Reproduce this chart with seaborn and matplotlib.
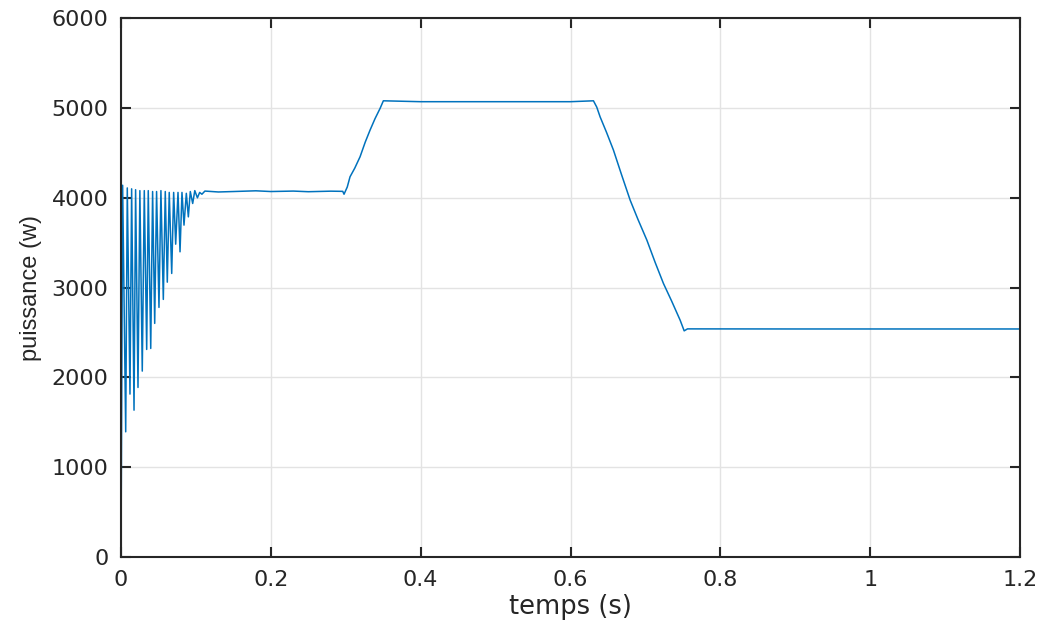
import matplotlib
matplotlib.use("Agg")
import matplotlib.pyplot as plt
import seaborn as sns
import pandas as pd

# start-up oscillation: alternating peaks / troughs (s, W)
t_start = [0.0, 0.0022, 0.0063, 0.0084, 0.0120, 0.0142, 0.0174, 0.0195, 0.0227,
           0.0252, 0.0284, 0.0311, 0.0343, 0.0364, 0.0397, 0.0422, 0.0450,
           0.0475, 0.0507, 0.0533, 0.0565, 0.0591, 0.0618, 0.0644, 0.0677,
           0.0703, 0.0730, 0.0761, 0.0788, 0.0814, 0.0841, 0.0872, 0.0899,
           0.0925, 0.0957, 0.0985, 0.1020, 0.1050, 0.1080]
p_start = [0, 4140, 1395, 4110, 1815, 4100, 1636, 4090, 1889,
           4080, 2071, 4080, 2312, 4080, 2323, 4070, 2602,
           4070, 2780, 4080, 2869, 4070, 3061, 4060, 3158,
           4060, 3484, 4060, 3399, 4060, 3696, 4050, 3788,
           4070, 3937, 4080, 4000, 4060, 4040]

# first plateau, ramp up, second plateau
t_mid = [0.1120, 0.1300, 0.1500, 0.1800, 0.2000, 0.2300, 0.2500, 0.2800,
         0.2960, 0.2977, 0.3020, 0.3057, 0.3120, 0.3191, 0.3260, 0.3324,
         0.3390, 0.3458, 0.3502, 0.4000, 0.5000, 0.6000, 0.6306]
p_mid = [4075, 4065, 4070, 4078, 4070, 4075, 4068, 4074,
         4072, 4040, 4120, 4234, 4330, 4457, 4620, 4753,
         4880, 4995, 5080, 5070, 5070, 5070, 5080]

# ramp down and final plateau
t_end = [0.6350, 0.6395, 0.6480, 0.6573, 0.6680, 0.6796, 0.6900, 0.7019,
         0.7130, 0.7240, 0.7350, 0.7463, 0.7517, 0.7561, 0.9000, 1.0500,
         1.2000]
p_end = [5010, 4901, 4730, 4531, 4260, 3974, 3760, 3529,
         3280, 3047, 2850, 2638, 2519, 2541, 2540, 2540,
         2540]

data = pd.DataFrame({'temps': t_start + t_mid + t_end,
                     'puissance': p_start + p_mid + p_end})

sns.set_style('whitegrid')
plt.rcParams['font.family'] = ['DejaVu Sans']

fig = plt.figure(figsize=(10.43, 6.26), dpi=100)
ax = fig.add_axes([0.116, 0.110, 0.862, 0.861])

sns.lineplot(data=data, x='temps', y='puissance', ax=ax, color='#0072BD',
             linewidth=1.1, estimator=None, sort=False)

ax.set_xlim(0, 1.2)
ax.set_ylim(0, 6000)
ax.set_xticks([0, 0.2, 0.4, 0.6, 0.8, 1.0, 1.2])
ax.set_xticklabels(['0', '0.2', '0.4', '0.6', '0.8', '1', '1.2'])
ax.set_yticks([0, 1000, 2000, 3000, 4000, 5000, 6000])

ax.grid(True, color='#e3e3e3', linewidth=1.0)
for side in ['left', 'right', 'top', 'bottom']:
    ax.spines[side].set_visible(True)
    ax.spines[side].set_color('#262626')
    ax.spines[side].set_linewidth(1.5)

ax.tick_params(axis='both', direction='in', length=7, width=1.5, color='#262626',
               labelsize=16, labelcolor='#262626', pad=9,
               top=True, right=True, left=True, bottom=True,
               labeltop=False, labelright=False)

ax.set_xlabel('temps (s)', fontsize=18.5, color='#262626', labelpad=3)
ax.set_ylabel('puissance (w)', fontsize=17, color='#262626',
              family='Liberation Sans')
ax.yaxis.set_label_coords(-0.088, 0.5)

fig.savefig('out.png', dpi=100)
